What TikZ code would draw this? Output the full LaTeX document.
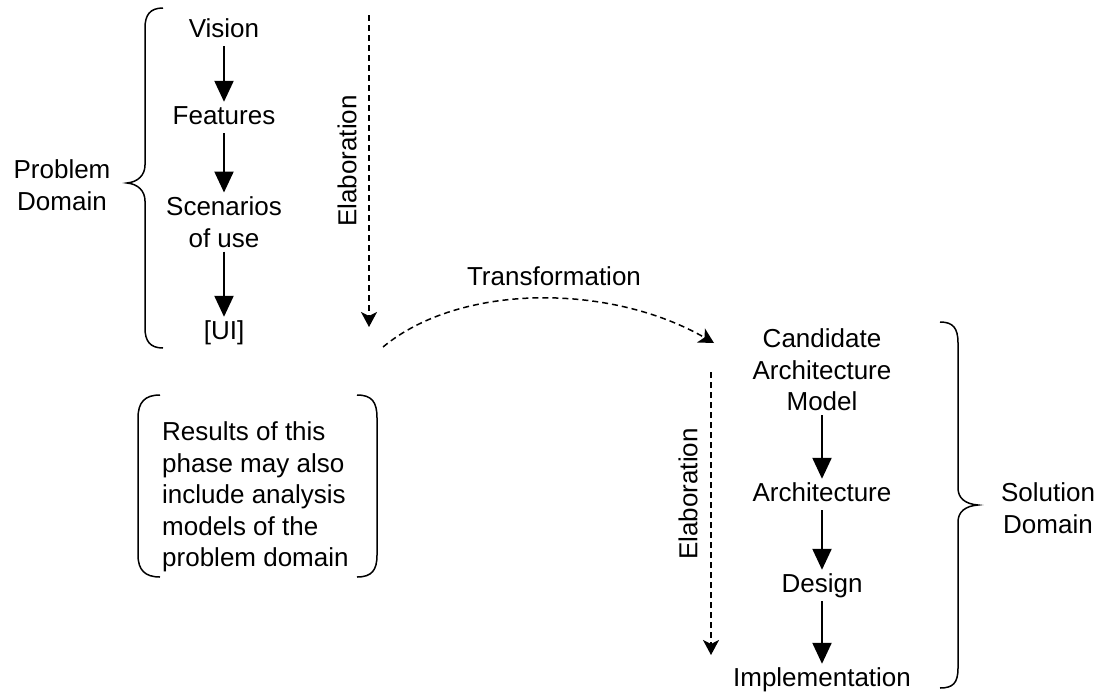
\documentclass[tikz,border=0pt]{standalone}
\usepackage{fontspec}
\setmainfont{Liberation Sans}
\usetikzlibrary{arrows.meta}
\begin{document}
\begin{tikzpicture}[x=1pt,y=-1pt,
  every node/.style={font=\fontsize{26}{31.5}\selectfont, inner xsep=2pt, inner ysep=4pt},
  lbl/.style={text height=18pt, text depth=5pt, anchor=base},
  multi/.style={align=center, anchor=center},
  bigarrow/.style={line width=2.2pt, -{Triangle[width=19pt,length=21pt]}},
  dasharrow/.style={line width=1.5pt, dash pattern=on 6pt off 4pt, -{Stealth[width=16pt,length=15pt,inset=4pt]}},
  bracepath/.style={line width=1.5pt}]
\useasboundingbox (0,0) rectangle (1099,691);
% Problem domain column
\node[lbl] (vision) at (224,37) {Vision};
\node[lbl] (features) at (224,124) {Features};
\node[multi] (scen) at (224,222) {Scenarios\\of use};
\node[lbl] (ui) at (224,339) {[UI]};
\draw[bigarrow] (vision) -- (features);
\draw[bigarrow] (features) -- (scen);
\draw[bigarrow] (scen) -- (ui);
\node[multi] (prob) at (62,185) {Problem\\Domain};
\draw[bracepath] (163,8) .. controls (150,8) and (145,15) .. (145,28) -- (145,165)
  .. controls (145,175) and (138,182) .. (127,183)
  .. controls (138,184) and (145,191) .. (145,201) -- (145,328)
  .. controls (145,341) and (150,348) .. (163,348);
% Elaboration 1
\coordinate (e1s) at (369,15);
\coordinate (e1e) at (369,327);
\draw[dasharrow] (e1s) -- (e1e);
\node[rotate=90, anchor=center] (elab1) at (347,161) {Elaboration};
% Transformation
\coordinate (ts) at (383,347);
\coordinate (te) at (714,343);
\draw[dasharrow] (ts) .. controls (460,283) and (610,283) .. (te);
\node (trans) at (554,276) {Transformation};
% Results box
\node[align=left, anchor=west, inner xsep=0pt] (results) at (162,497) {Results of this\\phase may also\\include analysis\\models of the\\problem domain};
\draw[bracepath] (160,395) .. controls (145,395) and (138,402) .. (138,418) -- (138,555)
  .. controls (138,570) and (145,577) .. (160,577);
\draw[bracepath] (357,395) .. controls (372,395) and (377,402) .. (377,418) -- (377,555)
  .. controls (377,570) and (372,577) .. (357,577);
% Solution domain column
\node[multi] (cand) at (822,370) {Candidate\\Architecture\\Model};
\node[lbl] (arch) at (822,501) {Architecture};
\node[lbl] (design) at (822,592) {Design};
\node[lbl] (impl) at (822,686) {Implementation};
\draw[bigarrow] (cand) -- (arch);
\draw[bigarrow] (arch) -- (design);
\draw[bigarrow] (design) -- (impl);
% Elaboration 2
\coordinate (e2s) at (711,372);
\coordinate (e2e) at (711,655);
\draw[dasharrow] (e2s) -- (e2e);
\node[rotate=90, anchor=center] (elab2) at (688,494) {Elaboration};
% Right brace
\draw[bracepath] (940,322) .. controls (953,322) and (958,328) .. (958,343) -- (958,488)
  .. controls (958,498) and (965,504) .. (978,505)
  .. controls (965,506) and (958,512) .. (958,522) -- (958,668)
  .. controls (958,683) and (953,688) .. (940,688);
\node[multi] (sol) at (1048,508) {Solution\\Domain};
\end{tikzpicture}
\end{document}
